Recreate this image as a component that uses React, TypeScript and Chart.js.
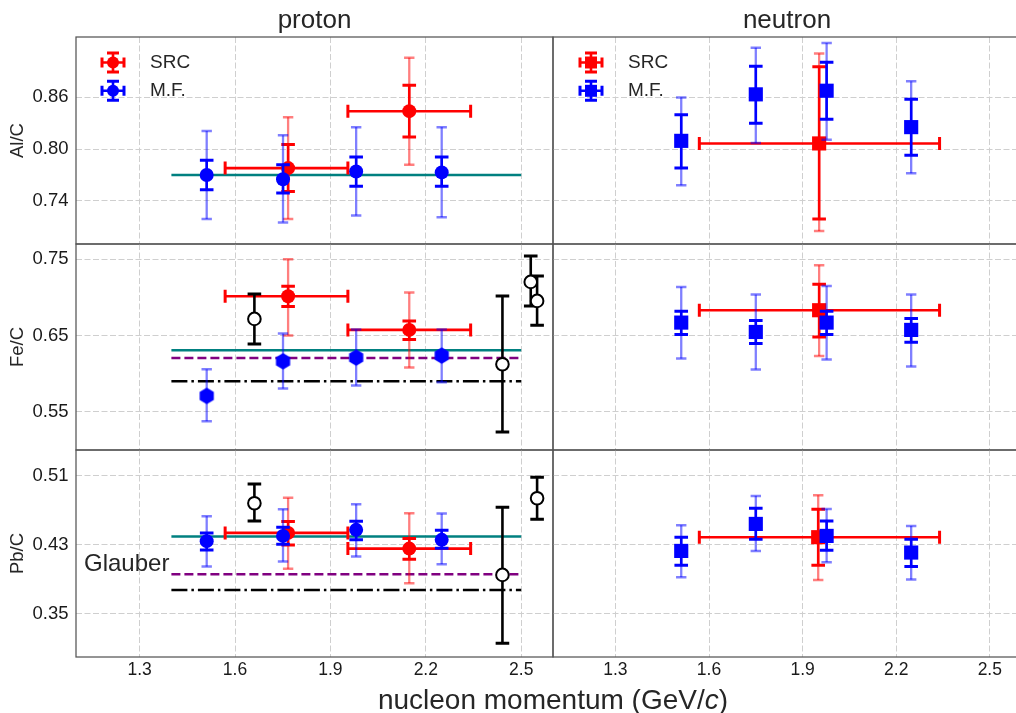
import React, { useEffect, useRef } from 'react';
import { Chart, registerables } from 'chart.js';
Chart.register(...registerables);

// ---------- data ----------
const xTicks = [1.3, 1.6, 1.9, 2.2, 2.5];
const xRange = [1.1, 2.6];
const alTicks = [0.74, 0.8, 0.86];
const feTicks = [0.55, 0.65, 0.75];
const pbTicks = [0.35, 0.43, 0.51];
const alRange = [0.69, 0.93];
const feRange = [0.5, 0.77];
const pbRange = [0.3, 0.54];

// SRC: [x, y, xLow, xHigh, statLow, statHigh, sysLow, sysHigh]
const alProtonSRC = [
  [1.767, 0.778, 1.569, 1.955, 0.751, 0.8055, 0.719, 0.837],
  [2.148, 0.844, 1.955, 2.341, 0.814, 0.874, 0.782, 0.906],
];
const alNeutronSRC = [[1.953, 0.8066, 1.569, 2.339, 0.719, 0.8955, 0.705, 0.911]];
const feProtonSRC = [
  [1.767, 0.7015, 1.569, 1.955, 0.688, 0.7146, 0.65, 0.75],
  [2.148, 0.6574, 1.955, 2.341, 0.6447, 0.669, 0.608, 0.7063],
];
const feNeutronSRC = [[1.953, 0.6832, 1.569, 2.339, 0.6482, 0.7172, 0.6233, 0.7421]];
const pbProtonSRC = [
  [1.767, 0.4439, 1.569, 1.955, 0.43, 0.457, 0.4022, 0.4845],
  [2.148, 0.4257, 1.955, 2.341, 0.4134, 0.4373, 0.3856, 0.4667],
];
const pbNeutronSRC = [[1.95, 0.4389, 1.569, 2.339, 0.4065, 0.4714, 0.3894, 0.4876]];

// M.F.: [x, y, statLow, statHigh, sysLow, sysHigh]
const alProtonMF = [
  [1.511, 0.77, 0.753, 0.787, 0.719, 0.821],
  [1.751, 0.765, 0.749, 0.782, 0.715, 0.816],
  [1.981, 0.774, 0.757, 0.791, 0.723, 0.8255],
  [2.25, 0.773, 0.757, 0.791, 0.721, 0.8255],
];
const alNeutronMF = [
  [1.511, 0.8096, 0.778, 0.84, 0.758, 0.86],
  [1.75, 0.8635, 0.83, 0.896, 0.807, 0.9176],
  [1.977, 0.8677, 0.8345, 0.9006, 0.811, 0.923],
  [2.248, 0.8255, 0.793, 0.8577, 0.772, 0.8786],
];
const feProtonMF = [
  [1.511, 0.5709, 0.5709, 0.5709, 0.5377, 0.6058],
  [1.751, 0.6163, 0.6163, 0.6163, 0.5805, 0.6526],
  [1.981, 0.6211, 0.6211, 0.6211, 0.5845, 0.658],
  [2.25, 0.6237, 0.6237, 0.6237, 0.5888, 0.658],
];
const feNeutronMF = [
  [1.511, 0.667, 0.6513, 0.6818, 0.6198, 0.7137],
  [1.75, 0.6547, 0.6395, 0.6696, 0.6055, 0.7037],
  [1.977, 0.667, 0.6513, 0.6818, 0.6185, 0.715],
  [2.248, 0.6574, 0.6412, 0.6723, 0.6094, 0.7037],
];
const pbProtonMF = [
  [1.511, 0.4343, 0.4242, 0.4439, 0.4048, 0.4633],
  [1.751, 0.4404, 0.4308, 0.4505, 0.4106, 0.4714],
  [1.981, 0.4474, 0.4358, 0.4575, 0.4164, 0.4772],
  [2.25, 0.4358, 0.4262, 0.447, 0.4076, 0.4663],
];
const pbNeutronMF = [
  [1.511, 0.423, 0.4065, 0.4389, 0.3925, 0.4528],
  [1.75, 0.4543, 0.4366, 0.4725, 0.423, 0.4868],
  [1.977, 0.4404, 0.4239, 0.4578, 0.41, 0.4717],
  [2.248, 0.4211, 0.4048, 0.4366, 0.3898, 0.452],
];

// other measurements: [x, y, low, high]
const feProtonOther = [
  [1.661, 0.6718, 0.639, 0.7046],
  [2.441, 0.6124, 0.5237, 0.702],
  [2.53, 0.7203, 0.6888, 0.7543],
  [2.55, 0.6954, 0.6635, 0.728],
];
const pbProtonOther = [
  [1.661, 0.4783, 0.4578, 0.5007],
  [2.441, 0.3952, 0.316, 0.4737],
  [2.55, 0.4841, 0.4598, 0.5085],
];

// model (Glauber etc.) levels, drawn across modelX
const modelX = [1.4, 2.5];
const alProtonModels = [0.77];
const feProtonModels = [0.6307, 0.6207, 0.59];
const pbProtonModels = [0.4397, 0.396, 0.3778];

// ---------- style ----------
const FIG_W = 1031;
const FIG_H = 713;
const FONT = '"Liberation Sans", Arial, sans-serif';
const TXT = '#262626';
const SRC_C = '#ff0000';
const SRC_F = 'rgba(255,0,0,0.5)';
const MF_C = '#0000ff';
const MF_F = 'rgba(0,0,255,0.5)';
const modelColors = ['#008080', '#800080', '#000000'];
const modelDash = [[], [9, 4], [16, 4, 2.5, 4]];
const colEdges = [[76, 553], [553, 1030]];
const rowEdges = [[37, 244], [244, 450], [450, 657]];

function hexagon(color: string, r: number) {
  const c = document.createElement('canvas');
  const s = Math.ceil(2 * r + 2);
  c.width = s;
  c.height = s;
  const g = c.getContext('2d')!;
  g.fillStyle = color;
  g.beginPath();
  for (let i = 0; i < 6; i++) {
    const ang = -Math.PI / 2 + (i * Math.PI) / 3;
    const px = s / 2 + r * Math.cos(ang);
    const py = s / 2 + r * Math.sin(ang);
    if (i) g.lineTo(px, py);
    else g.moveTo(px, py);
  }
  g.closePath();
  g.fill();
  return c;
}

function srcSet(rows: number[][], style: any, radius: number) {
  return {
    label: 'SRC',
    data: rows.map((r) => ({ x: r[0], y: r[1] })),
    pointStyle: style,
    pointRadius: radius,
    pointBackgroundColor: SRC_C,
    pointBorderWidth: 0,
    order: 3,
    err: rows.map((r) => ({ x: r[0], y: r[1], xr: [r[2], r[3]], stat: [r[4], r[5]], sys: [r[6], r[7]] })),
    errColor: SRC_C,
    errFade: SRC_F,
  };
}
function mfSet(rows: number[][], style: any, radius: number) {
  return {
    label: 'M.F.',
    data: rows.map((r) => ({ x: r[0], y: r[1] })),
    pointStyle: style,
    pointRadius: radius,
    pointBackgroundColor: MF_C,
    pointBorderWidth: 0,
    order: 2,
    err: rows.map((r) => ({ x: r[0], y: r[1], stat: [r[2], r[3]], sys: [r[4], r[5]] })),
    errColor: MF_C,
    errFade: MF_F,
  };
}
function otherSet(rows: number[][]) {
  return {
    label: 'other',
    data: rows.map((r) => ({ x: r[0], y: r[1] })),
    pointStyle: 'circle',
    pointRadius: 6.3,
    pointBackgroundColor: '#ffffff',
    pointBorderColor: '#000000',
    pointBorderWidth: 2,
    order: 1,
    err: rows.map((r) => ({ x: r[0], y: r[1], stat: [r[2], r[3]] })),
    errColor: '#000000',
    errFade: '#000000',
  };
}
function modelSets(levels: number[]) {
  return levels.map((v, i) => ({
    label: 'model' + i,
    data: modelX.map((x) => ({ x, y: v })),
    showLine: true,
    pointRadius: 0,
    borderColor: modelColors[i],
    borderWidth: 2.5,
    borderDash: modelDash[i],
    order: 4,
  }));
}

function vbar(ctx: CanvasRenderingContext2D, px: number, y1: number, y2: number, color: string, lw: number, cap: number, capLw: number) {
  ctx.strokeStyle = color;
  ctx.lineWidth = lw;
  ctx.beginPath();
  ctx.moveTo(px, y1);
  ctx.lineTo(px, y2);
  ctx.stroke();
  ctx.lineWidth = capLw;
  ctx.beginPath();
  ctx.moveTo(px - cap, y1);
  ctx.lineTo(px + cap, y1);
  ctx.moveTo(px - cap, y2);
  ctx.lineTo(px + cap, y2);
  ctx.stroke();
}
function hbar(ctx: CanvasRenderingContext2D, py: number, x1: number, x2: number, color: string, lw: number, cap: number, capLw: number) {
  ctx.strokeStyle = color;
  ctx.lineWidth = lw;
  ctx.beginPath();
  ctx.moveTo(x1, py);
  ctx.lineTo(x2, py);
  ctx.stroke();
  ctx.lineWidth = capLw;
  ctx.beginPath();
  ctx.moveTo(x1, py - cap);
  ctx.lineTo(x1, py + cap);
  ctx.moveTo(x2, py - cap);
  ctx.lineTo(x2, py + cap);
  ctx.stroke();
}

const errorBarPlugin = {
  id: 'errorBars',
  beforeDatasetDraw(chart: any, args: any) {
    const ds: any = chart.data.datasets[args.index];
    if (!ds.err) return;
    const { ctx, chartArea: a } = chart;
    const xs = chart.scales.x;
    const ys = chart.scales.y;
    ctx.save();
    ctx.beginPath();
    ctx.rect(a.left, a.top, a.right - a.left, a.bottom - a.top);
    ctx.clip();
    for (const e of ds.err) {
      const px = xs.getPixelForValue(e.x);
      const py = ys.getPixelForValue(e.y);
      if (e.sys && e.sys[0] !== e.sys[1])
        vbar(ctx, px, ys.getPixelForValue(e.sys[0]), ys.getPixelForValue(e.sys[1]), ds.errFade, 2.3, 5.2, 2.5);
      if (e.stat && e.stat[0] !== e.stat[1])
        vbar(ctx, px, ys.getPixelForValue(e.stat[0]), ys.getPixelForValue(e.stat[1]), ds.errColor, 2.6, 6.8, 3);
      if (e.xr) hbar(ctx, py, xs.getPixelForValue(e.xr[0]), xs.getPixelForValue(e.xr[1]), ds.errColor, 2.6, 6.5, 3);
    }
    ctx.restore();
  },
};

function legendMarker(ctx: CanvasRenderingContext2D, cx: number, cy: number, color: string, shape: string) {
  ctx.save();
  ctx.strokeStyle = color;
  ctx.fillStyle = color;
  ctx.lineWidth = 2.6;
  ctx.beginPath();
  ctx.moveTo(cx, cy - 9.5);
  ctx.lineTo(cx, cy + 9.5);
  ctx.moveTo(cx - 11, cy);
  ctx.lineTo(cx + 11, cy);
  ctx.stroke();
  ctx.lineWidth = 3;
  ctx.beginPath();
  ctx.moveTo(cx - 6, cy - 9.5);
  ctx.lineTo(cx + 6, cy - 9.5);
  ctx.moveTo(cx - 6, cy + 9.5);
  ctx.lineTo(cx + 6, cy + 9.5);
  ctx.moveTo(cx - 11, cy - 5);
  ctx.lineTo(cx - 11, cy + 5);
  ctx.moveTo(cx + 11, cy - 5);
  ctx.lineTo(cx + 11, cy + 5);
  ctx.stroke();
  ctx.beginPath();
  if (shape === 'circle') ctx.arc(cx, cy, 6, 0, Math.PI * 2);
  else ctx.rect(cx - 6, cy - 6, 12, 12);
  ctx.fill();
  ctx.restore();
}

function drawLegend(ctx: CanvasRenderingContext2D, mx: number, tx: number, y1: number, y2: number, shape: string) {
  legendMarker(ctx, mx, y1, SRC_C, shape);
  legendMarker(ctx, mx, y2, MF_C, shape);
  ctx.font = `19px ${FONT}`;
  ctx.fillStyle = TXT;
  ctx.textAlign = 'left';
  ctx.textBaseline = 'middle';
  ctx.fillText('SRC', tx, y1);
  ctx.fillText('M.F.', tx, y2);
}

function yTitle(ctx: CanvasRenderingContext2D, text: string, cy: number) {
  ctx.save();
  ctx.translate(18, cy);
  ctx.rotate(-Math.PI / 2);
  ctx.font = `18.5px ${FONT}`;
  ctx.fillStyle = TXT;
  ctx.textAlign = 'center';
  ctx.textBaseline = 'middle';
  ctx.fillText(text, 0, 0);
  ctx.restore();
}

function colTitle(ctx: CanvasRenderingContext2D, text: string, cx: number) {
  ctx.font = `26px ${FONT}`;
  ctx.fillStyle = TXT;
  ctx.textAlign = 'center';
  ctx.textBaseline = 'alphabetic';
  ctx.fillText(text, cx, 28);
}

function xTitle(ctx: CanvasRenderingContext2D) {
  const a = 'nucleon momentum (GeV/';
  const b = 'c';
  const c = ')';
  const up = `28px ${FONT}`;
  const it = `italic 28px ${FONT}`;
  ctx.fillStyle = TXT;
  ctx.textBaseline = 'alphabetic';
  ctx.textAlign = 'left';
  ctx.font = up;
  const wa = ctx.measureText(a).width;
  const wc = ctx.measureText(c).width;
  ctx.font = it;
  const wb = ctx.measureText(b).width;
  const x0 = 553 - (wa + wb + wc) / 2;
  const base = 709;
  ctx.font = up;
  ctx.fillText(a, x0, base);
  ctx.font = it;
  ctx.fillText(b, x0 + wa, base);
  ctx.font = up;
  ctx.fillText(c, x0 + wa + wb, base);
}

type Decorate = (ctx: CanvasRenderingContext2D, a: any) => void;

function framePlugin(decorate: Decorate) {
  return {
    id: 'frameAndText',
    afterDraw(chart: any) {
      const { ctx, chartArea: a } = chart;
      ctx.save();
      ctx.strokeStyle = '#555555';
      ctx.lineWidth = 1.25;
      ctx.strokeRect(a.left, a.top, a.right - a.left, a.bottom - a.top);
      decorate(ctx, a);
      ctx.restore();
    },
  };
}

type Panel = {
  col: number;
  row: number;
  yRange: number[];
  yTicks: number[];
  datasets: () => any[];
  decorate: Decorate;
};

const panels: Panel[] = [
  {
    col: 0,
    row: 0,
    yRange: alRange,
    yTicks: alTicks,
    datasets: () => [...modelSets(alProtonModels), srcSet(alProtonSRC, 'circle', 7), mfSet(alProtonMF, 'circle', 7)],
    decorate: (ctx, a) => {
      colTitle(ctx, 'proton', (a.left + a.right) / 2);
      drawLegend(ctx, 113, 150, 62.5, 90.7, 'circle');
      yTitle(ctx, 'Al/C', (a.top + a.bottom) / 2);
    },
  },
  {
    col: 1,
    row: 0,
    yRange: alRange,
    yTicks: alTicks,
    datasets: () => [srcSet(alNeutronSRC, 'rect', 10), mfSet(alNeutronMF, 'rect', 10)],
    decorate: (ctx, a) => {
      colTitle(ctx, 'neutron', (a.left + a.right) / 2);
      drawLegend(ctx, 591, 628, 62.5, 90.8, 'rect');
    },
  },
  {
    col: 0,
    row: 1,
    yRange: feRange,
    yTicks: feTicks,
    datasets: () => [
      ...modelSets(feProtonModels),
      srcSet(feProtonSRC, 'circle', 7),
      mfSet(feProtonMF, hexagon(MF_C, 8.2), 8),
      otherSet(feProtonOther),
    ],
    decorate: (ctx, a) => {
      yTitle(ctx, 'Fe/C', (a.top + a.bottom) / 2);
    },
  },
  {
    col: 1,
    row: 1,
    yRange: feRange,
    yTicks: feTicks,
    datasets: () => [srcSet(feNeutronSRC, 'rect', 10), mfSet(feNeutronMF, 'rect', 10)],
    decorate: () => {},
  },
  {
    col: 0,
    row: 2,
    yRange: pbRange,
    yTicks: pbTicks,
    datasets: () => [
      ...modelSets(pbProtonModels),
      srcSet(pbProtonSRC, 'circle', 7),
      mfSet(pbProtonMF, 'circle', 7),
      otherSet(pbProtonOther),
    ],
    decorate: (ctx, a) => {
      yTitle(ctx, 'Pb/C', (a.top + a.bottom) / 2);
      ctx.font = `24px ${FONT}`;
      ctx.fillStyle = TXT;
      ctx.textAlign = 'left';
      ctx.textBaseline = 'alphabetic';
      ctx.fillText('Glauber', a.left + 8, 571);
    },
  },
  {
    col: 1,
    row: 2,
    yRange: pbRange,
    yTicks: pbTicks,
    datasets: () => [srcSet(pbNeutronSRC, 'rect', 10), mfSet(pbNeutronMF, 'rect', 10)],
    decorate: (ctx) => {
      xTitle(ctx);
    },
  },
];

function buildConfig(p: Panel): any {
  const YW = 60;
  const XH = 36;
  const [left, right] = colEdges[p.col];
  const [top, bottom] = rowEdges[p.row];
  const showX = p.row === 2;
  const showY = p.col === 0;
  const grid = { color: '#cfcfcf', lineWidth: 1, drawTicks: false };
  const border = { display: false, dash: [6, 2.5] };
  return {
    type: 'scatter',
    data: { datasets: p.datasets() },
    options: {
      responsive: false,
      animation: false,
      events: [],
      layout: { padding: { left: left - YW, top, right: FIG_W - right, bottom: FIG_H - bottom - XH } },
      plugins: {
        legend: { display: false },
        tooltip: { enabled: false },
        title: { display: false },
      },
      scales: {
        x: {
          type: 'linear',
          min: xRange[0],
          max: xRange[1],
          afterBuildTicks: (s: any) => {
            s.ticks = xTicks.map((v) => ({ value: v }));
          },
          afterFit: (s: any) => {
            s.height = XH;
          },
          ticks: {
            display: showX,
            autoSkip: false,
            maxRotation: 0,
            padding: 3,
            color: '#1a1a1a',
            font: { family: FONT, size: 17.5 },
            callback: (v: any) => Number(v).toFixed(1),
          },
          grid,
          border,
        },
        y: {
          type: 'linear',
          min: p.yRange[0],
          max: p.yRange[1],
          afterBuildTicks: (s: any) => {
            s.ticks = p.yTicks.map((v) => ({ value: v }));
          },
          afterFit: (s: any) => {
            s.width = YW;
          },
          ticks: {
            display: showY,
            autoSkip: false,
            padding: 7.5,
            color: '#1a1a1a',
            font: { family: FONT, size: 18.5 },
            callback: (v: any) => Number(v).toFixed(2),
          },
          grid,
          border,
        },
      },
    },
    plugins: [errorBarPlugin, framePlugin(p.decorate)],
  };
}

export default function App() {
  const refs = useRef<(HTMLCanvasElement | null)[]>([]);
  useEffect(() => {
    const charts = panels.map((p, i) => new Chart(refs.current[i] as HTMLCanvasElement, buildConfig(p)));
    return () => {
      charts.forEach((c) => c.destroy());
    };
  }, []);
  return (
    <div
      style={{
        position: 'fixed',
        left: 0,
        top: 0,
        width: 1016,
        height: 713,
        overflow: 'hidden',
        background: '#ffffff',
      }}
    >
      {panels.map((p, i) => (
        <canvas
          key={i}
          ref={(el) => {
            refs.current[i] = el;
          }}
          width={FIG_W}
          height={FIG_H}
          style={{ position: 'absolute', left: 0, top: 0, width: FIG_W, height: FIG_H }}
        />
      ))}
    </div>
  );
}
